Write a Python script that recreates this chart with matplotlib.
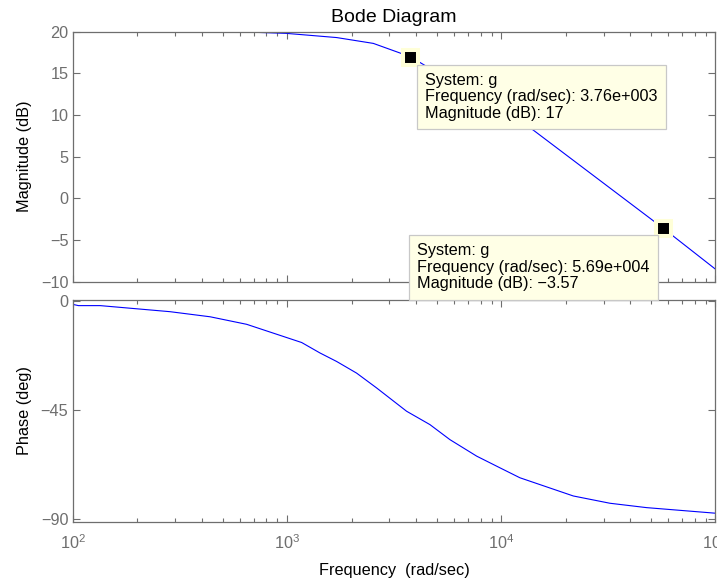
import numpy as np
import matplotlib
matplotlib.use("Agg")
import matplotlib.pyplot as plt
from matplotlib.ticker import LogLocator, NullFormatter

plt.rcParams["font.family"] = ["Liberation Sans", "DejaVu Sans"]
plt.rcParams["axes.unicode_minus"] = True
plt.rcParams["font.size"] = 11.7

# 幅频曲线
mag_freq = [100, 670, 995, 1702, 2525, 3760, 14090, 56900, 100000]
mag_db = [20.0, 19.95, 19.8, 19.3, 18.6, 17.0, 8.2, -3.57, -8.5]

# 相频曲线
phase_freq = [100, 106, 134, 284, 437, 647, 1169, 1423, 1702, 2110, 2616,
              3611, 4640, 5755, 7674, 9850, 12210, 21680, 32150, 47670, 100000]
phase_deg = [-1.5, -2.0, -2.0, -4.5, -6.6, -9.7, -17.2, -21.5, -25.0, -29.8, -35.9,
             -45.5, -51.0, -57.2, -64.0, -68.8, -72.9, -80.4, -83.4, -85.2, -87.5]

# 数据提示点
tip_freq = [3760, 56900]
tip_mag = [17.0, -3.57]
tip_text = ["System: g\nFrequency (rad/sec): 3.76e+003\nMagnitude (dB): 17",
            "System: g\nFrequency (rad/sec): 5.69e+004\nMagnitude (dB): \u22123.57"]
tip_offset = [(15, -16), (-246, -15)]

mag_ticks = [-10, -5, 0, 5, 10, 15, 20]
phase_ticks = [0, -45, -90]

gray = "#6e6e6e"
tip_bg = "#ffffe6"

fig = plt.figure(figsize=(7.17, 5.8), dpi=100)
ax_mag = fig.add_axes([0.1018, 0.5143, 0.8961, 0.431])
ax_ph = fig.add_axes([0.1018, 0.1005, 0.8961, 0.3822])
ax_mag.set_zorder(3)

ax_mag.semilogx(mag_freq, mag_db, color="#0000ff", lw=0.8)
ax_ph.semilogx(phase_freq, phase_deg, color="#0000ff", lw=0.8)

for ax in (ax_mag, ax_ph):
    ax.set_xlim(100, 100000)
    ax.xaxis.set_major_locator(LogLocator(base=10, numticks=10))
    ax.xaxis.set_minor_locator(LogLocator(base=10, subs=np.arange(2, 10), numticks=20))
    ax.xaxis.set_minor_formatter(NullFormatter())
    ax.tick_params(which="both", direction="in", top=True, right=True,
                   color=gray, labelcolor=gray, pad=3.4)
    ax.tick_params(axis="x", which="major", pad=8)
    ax.tick_params(which="major", length=5, width=0.8)
    ax.tick_params(which="minor", length=3, width=0.8)
    for sp in ax.spines.values():
        sp.set_color(gray)
        sp.set_linewidth(0.9)

ax_mag.set_ylim(-10, 20)
ax_mag.set_yticks(mag_ticks)
ax_mag.tick_params(axis="x", labelbottom=False)
ax_mag.set_ylabel("Magnitude (dB)", labelpad=6)
ax_mag.set_title("Bode Diagram", pad=7)

ax_ph.set_ylim(-91, 0.3)
ax_ph.set_yticks(phase_ticks)
ax_ph.set_ylabel("Phase (deg)", labelpad=6)
ax_ph.set_xlabel("Frequency  (rad/sec)", labelpad=8)

# 数据提示框
for f, m, txt, off in zip(tip_freq, tip_mag, tip_text, tip_offset):
    ax_mag.plot(f, m, "s", ms=10.8, mfc="black", mec="#ffffd8", mew=2.9,
                zorder=6, clip_on=False)
    ax_mag.annotate(txt, xy=(f, m), xytext=off, textcoords="offset pixels",
                    ha="left", va="top", linespacing=1.14, zorder=7,
                    annotation_clip=False,
                    bbox=dict(boxstyle="square,pad=0.5", fc=tip_bg, ec="#c8c8c8", lw=0.9))

fig.savefig("out.png", dpi=100)
